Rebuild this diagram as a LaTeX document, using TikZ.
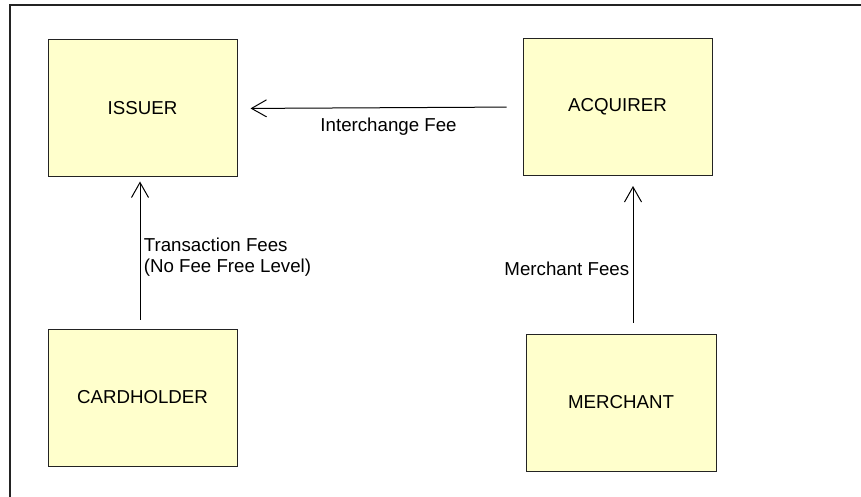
\documentclass[tikz,border=0pt]{standalone}
\usepackage{fontspec}
\setmainfont{Liberation Sans}
\usepackage{xcolor}
\usepackage{tikz}
\usetikzlibrary{arrows.meta, positioning, calc}
\definecolor{partycolor}{RGB}{255,255,204}
\definecolor{edgecolor}{RGB}{35,35,35}

\begin{document}
\begin{tikzpicture}[
    x=1pt, y=-1pt,
    party/.style={draw=edgecolor, line width=1pt, fill=partycolor, minimum width=189pt, minimum height=137pt, inner sep=0pt, font=\fontsize{18.7}{22}\selectfont},
    fee/.style={-{Straight Barb[length=15pt, width=17pt, line width=1pt]}, line width=1pt, black},
    lbl/.style={font=\fontsize{18.7}{21}\selectfont, text=black}
]
    \useasboundingbox (0,0) rectangle (861,497);

    % Frame
    \draw[line width=1.5pt, edgecolor] (10,497) -- (10,5) -- (861,5);

    % Banks (top)
    \node[party] (issuer) at (142.5,108.5) {ISSUER};
    \node[party] (acquirer) at (617.5,107) {ACQUIRER};

    % Card users (bottom)
    \node[party] (cardholder) at (142.5,397.5) {CARDHOLDER};
    \node[party, minimum width=190pt] (merchant) at (621,402.5) {MERCHANT};

    % Fee flows
    \draw[fee, shorten <=16pt, shorten >=13pt] (acquirer.west) -- node[lbl, below=6pt, pos=0.47] {Interchange Fee} (issuer.east);
    \draw[fee, shorten <=9pt, shorten >=4pt] ([xshift=-2.5pt]cardholder.north) -- node[lbl, right, align=left, pos=0.47] {Transaction Fees\\(No Fee Free Level)} ([xshift=-2.5pt]issuer.south);
    \draw[fee, shorten <=11pt, shorten >=10pt] ([xshift=12pt]merchant.north) -- node[lbl, left, pos=0.41] {Merchant Fees} ([xshift=15.5pt]acquirer.south);

\end{tikzpicture}
\end{document}
